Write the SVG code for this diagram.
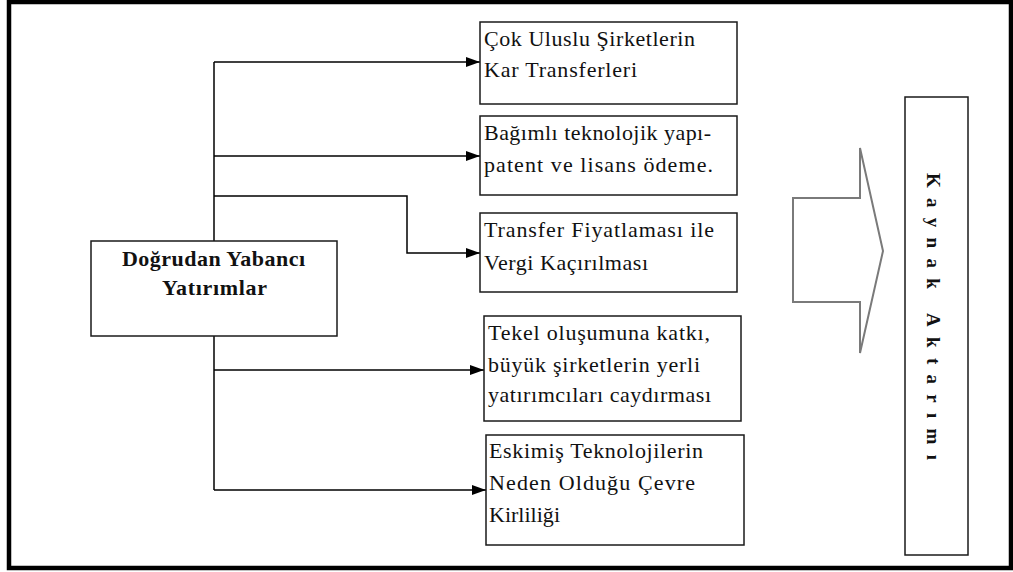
<svg xmlns="http://www.w3.org/2000/svg" width="1013" height="572" viewBox="0 0 1013 572">
  <style>
    .frame { fill: #ffffff; stroke: #000000; stroke-width: 4.5; }
    .box { fill: #ffffff; stroke: #1a1a1a; stroke-width: 1.5; }
    .line { fill: none; stroke: #000000; stroke-width: 1.5; }
    .t { font-family: "Liberation Serif", "Times New Roman", serif; font-size: 22px; fill: #111111; }
    .tb { font-family: "Liberation Serif", "Times New Roman", serif; font-size: 22px; font-weight: bold; fill: #111111; }
    .vt { font-family: "Liberation Serif", "Times New Roman", serif; font-size: 19px; font-weight: bold; fill: #111111; }
    .big-arrow { fill: #ffffff; stroke: #7a7a7a; stroke-width: 2; stroke-linejoin: miter; }
  </style>
  <defs>
    <marker id="head" viewBox="0 0 14 10" refX="14" refY="5" markerWidth="14" markerHeight="10" markerUnits="userSpaceOnUse" orient="auto">
      <path d="M0,0 L14,5 L0,10 Z" fill="#000000"/>
    </marker>
  </defs>

  <!-- outer frame -->
  <rect class="frame" x="9" y="2" width="1002" height="566"/>

  <!-- connectors -->
  <g id="connectors">
    <path class="line" d="M214,62 V490"/>
    <path class="line" d="M214,62 H480" marker-end="url(#head)"/>
    <path class="line" d="M214,156 H480" marker-end="url(#head)"/>
    <path class="line" d="M214,196 H407 V253 H480" marker-end="url(#head)"/>
    <path class="line" d="M214,370 H484" marker-end="url(#head)"/>
    <path class="line" d="M214,490 H486" marker-end="url(#head)"/>
  </g>

  <!-- source node -->
  <g id="node-dyy">
    <rect class="box" x="91" y="241" width="246" height="95"/>
    <text class="tb" x="122" y="266" textLength="183">Doğrudan Yabancı</text>
    <text class="tb" x="162" y="295" textLength="105">Yatırımlar</text>
  </g>

  <g id="node-kar">
    <rect class="box" x="480" y="22" width="257" height="82"/>
    <text class="t" x="484" y="46" textLength="211">Çok Uluslu Şirketlerin</text>
    <text class="t" x="484" y="77" textLength="153">Kar Transferleri</text>
  </g>

  <g id="node-teknoloji">
    <rect class="box" x="480" y="116" width="257" height="79"/>
    <text class="t" x="484" y="140" textLength="227">Bağımlı teknolojik yapı-</text>
    <text class="t" x="484" y="172" textLength="229">patent ve lisans ödeme.</text>
  </g>

  <g id="node-transfer">
    <rect class="box" x="480" y="213" width="257" height="79"/>
    <text class="t" x="484" y="237" textLength="230">Transfer Fiyatlaması  ile</text>
    <text class="t" x="484" y="270" textLength="164">Vergi Kaçırılması</text>
  </g>

  <g id="node-tekel">
    <rect class="box" x="484" y="316" width="257" height="105"/>
    <text class="t" x="488" y="340" textLength="222">Tekel oluşumuna katkı,</text>
    <text class="t" x="488" y="372" textLength="212">büyük şirketlerin yerli</text>
    <text class="t" x="488" y="402" textLength="223">yatırımcıları caydırması</text>
  </g>

  <g id="node-cevre">
    <rect class="box" x="486" y="435" width="258" height="110"/>
    <text class="t" x="489" y="458" textLength="214">Eskimiş Teknolojilerin</text>
    <text class="t" x="489" y="490" textLength="206">Neden Olduğu Çevre</text>
    <text class="t" x="489" y="522" textLength="71">Kirliliği</text>
  </g>

  <!-- block arrow -->
  <g id="block-arrow">
    <path class="big-arrow" d="M793,198 H860 V148 L883,251 L860,353 V302 H793 Z"/>
  </g>

  <!-- result node, vertical -->
  <g id="node-kaynak">
    <rect class="box" x="905" y="97" width="63" height="458"/>
    <text class="vt" transform="translate(927,173) rotate(90)" x="0" y="0" textLength="287">Kaynak Aktarımı</text>
  </g>
</svg>
